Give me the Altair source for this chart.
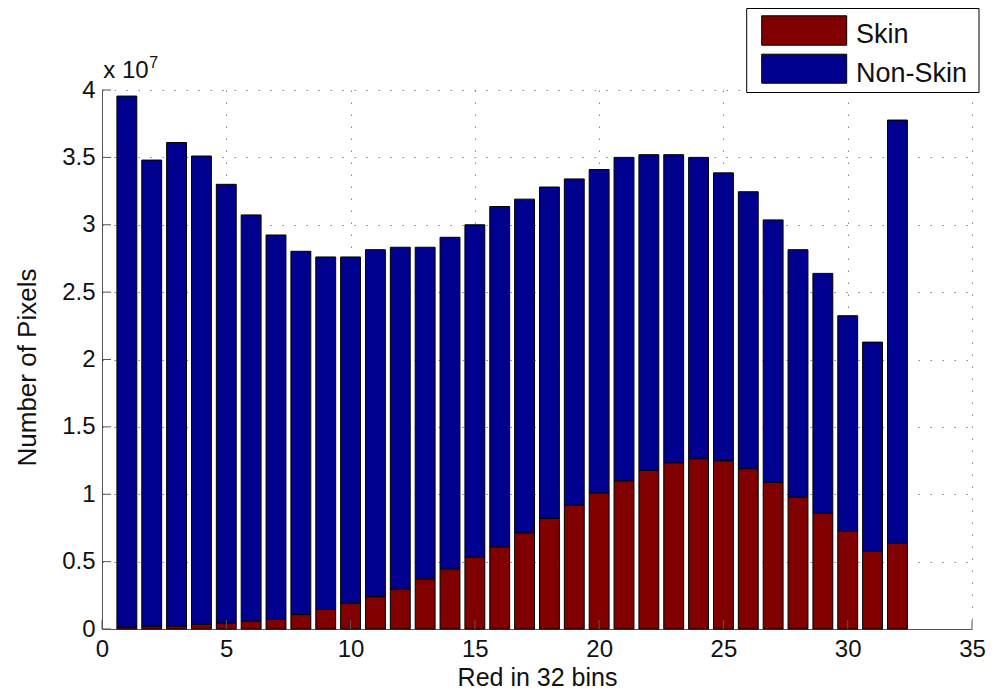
import altair as alt
import pandas as pd

# ---- data (values in units of 10^7 pixels) ----
BINS = list(range(1, 33))
TOTAL = [3.955, 3.48, 3.61, 3.51, 3.30, 3.073, 2.924, 2.803, 2.761, 2.761,
         2.815, 2.833, 2.833, 2.907, 3.00, 3.135, 3.19, 3.28, 3.34, 3.41,
         3.50, 3.52, 3.52, 3.50, 3.385, 3.245, 3.036, 2.815, 2.639, 2.325,
         2.129, 3.777]
SKIN = [0.015, 0.02, 0.022, 0.035, 0.045, 0.06, 0.072, 0.107, 0.146, 0.193,
        0.24, 0.297, 0.372, 0.446, 0.535, 0.61, 0.714, 0.82, 0.92, 1.01,
        1.10, 1.178, 1.234, 1.264, 1.249, 1.19, 1.088, 0.98, 0.86, 0.726,
        0.577, 0.637]
SERIES = ["Skin", "Non-Skin"]
COLORS = ["#800000", "#00008F"]
X_TICKS = [0, 5, 10, 15, 20, 25, 30, 35]
Y_TICKS = [0, 0.5, 1, 1.5, 2, 2.5, 3, 3.5, 4]
X_TITLE = "Red in 32 bins"
Y_TITLE = "Number of Pixels"
EXP_BASE = "x 10"
EXP_POWER = "7"

rows = []
for b, s, t in zip(BINS, SKIN, TOTAL):
    rows.append({"bin": b, "series": SERIES[0], "lo": 0.0, "hi": s})
    rows.append({"bin": b, "series": SERIES[1], "lo": s, "hi": t})
df = pd.DataFrame(rows)

W, H = 870, 539
FONT = "Liberation Sans"
AXC = "#555555"

xscale = alt.Scale(domain=[0, 35], nice=False, zero=False)
yscale = alt.Scale(domain=[0, 4], nice=False)

XAXIS = alt.Axis(values=X_TICKS, title=X_TITLE, ticks=False,
                 labelPadding=8, labelFlush=False, titleX=W / 2, titleY=56,
                 titleAlign="center", titleBaseline="alphabetic",
                 titleFontSize=25, labelFontSize=24,
                 labelExpr="datum.value + ''")
YAXIS = alt.Axis(values=Y_TICKS, title=Y_TITLE, ticks=False,
                 labelPadding=7, labelFlush=False, titleX=-67, titleY=277,
                 titleAngle=-90, titleAlign="center",
                 titleBaseline="alphabetic",
                 titleFontSize=26, labelFontSize=24,
                 labelExpr="datum.value + ''")

bars = alt.Chart(df).transform_calculate(
    left="datum.bin - 0.4", right="datum.bin + 0.4"
).mark_bar(stroke="black", strokeWidth=1).encode(
    x=alt.X("left:Q", scale=xscale, axis=XAXIS),
    x2="right:Q",
    y=alt.Y("lo:Q", scale=yscale, axis=YAXIS),
    y2="hi:Q",
    color=alt.Color("series:N", scale=alt.Scale(domain=SERIES, range=COLORS),
                    legend=None),
)

ytick = alt.Chart(pd.DataFrame({"v": Y_TICKS})).mark_rule(color=AXC).encode(
    y=alt.Y("v:Q", scale=yscale, axis=YAXIS),
    x=alt.value(0), x2=alt.value(9),
)
xtick = alt.Chart(pd.DataFrame({"v": X_TICKS})).mark_rule(color=AXC).encode(
    x=alt.X("v:Q", scale=xscale, axis=XAXIS),
    y=alt.value(H), y2=alt.value(H - 9),
)

one = pd.DataFrame({"k": [0]})
LX0, LX1, LY0, LY1 = 644.7, 877, -81.5, 2.5
legend_box = alt.Chart(one).mark_rect(fill="white", stroke="black",
                                       strokeWidth=1).encode(
    x=alt.value(LX0), x2=alt.value(LX1), y=alt.value(LY0), y2=alt.value(LY1)
)
legend_parts = [legend_box]
sym_y = [(-74.2, -44.8), (-35.8, -6.8)]
lab_y = [-47.5, -8.5]
for name, col, (y0, y1), ly in zip(SERIES, COLORS, sym_y, lab_y):
    legend_parts.append(
        alt.Chart(pd.DataFrame({"series": [name]})).mark_rect(
            stroke="black", strokeWidth=1, fill=col
        ).encode(x=alt.value(659.7), x2=alt.value(744.7),
                 y=alt.value(y0), y2=alt.value(y1))
    )
    legend_parts.append(
        alt.Chart(pd.DataFrame({"series": [name]})).mark_text(
            align="left", baseline="alphabetic", font=FONT, fontSize=27,
            color="#111111"
        ).encode(text="series:N", x=alt.value(754), y=alt.value(ly))
    )

exp_base = alt.Chart(pd.DataFrame({"t": [EXP_BASE]})).mark_text(
    align="left", baseline="alphabetic", font=FONT, fontSize=24, color="#111111"
).encode(text="t:N", x=alt.value(1.3), y=alt.value(-12.3))
exp_pow = alt.Chart(pd.DataFrame({"t": [EXP_POWER]})).mark_text(
    align="left", baseline="alphabetic", font=FONT, fontSize=16, color="#111111"
).encode(text="t:N", x=alt.value(47.3), y=alt.value(-21.7))

chart = alt.layer(bars, ytick, xtick, *legend_parts, exp_base, exp_pow).properties(
    width=W, height=H,
    autosize=alt.AutoSizeParams(type="none"),
    padding={"left": 94, "top": 82, "right": 20, "bottom": 62},
).configure_view(stroke=None).configure_axis(
    domainColor=AXC, domainWidth=1,
    labelFont=FONT, titleFont=FONT, labelColor="#111111", titleColor="#111111",
    titleFontWeight="normal",
    gridColor="#8a8a8a", gridDash=[1.5, 10.5], gridWidth=1,
)

chart.save("out.html", embed_options={"renderer": "svg", "actions": False})
